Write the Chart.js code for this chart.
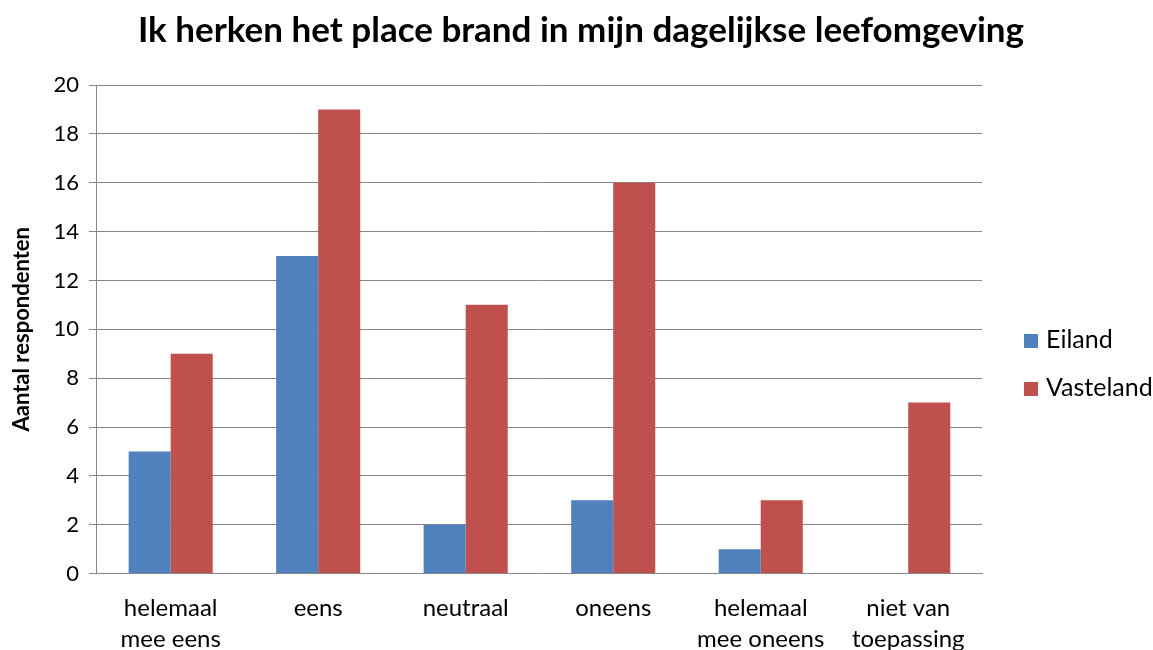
<!DOCTYPE html>
<html>
<head>
<meta charset="utf-8">
<script src="https://cdn.jsdelivr.net/npm/chart.js@4"></script>
<style>
  html, body { margin: 0; padding: 0; background: #fff; overflow: hidden; }
  #wrap { position: relative; width: 1153px; height: 666px; }
  #legend { position: absolute; left: 1024px; top: 322px; font-family: Lato, "Open Sans", sans-serif; font-size: 25px; color: #000; }
  #legend div { height: 48px; line-height: 32px; white-space: nowrap; }
  #legend span { display: inline-block; width: 14px; height: 14px; margin-right: 8px; vertical-align: 0px; }
</style>
</head>
<body>
<div id="wrap"><canvas id="chart"></canvas><div id="legend"></div></div>
<script>
const categories = [
    ['helemaal', 'mee eens'],
    'eens',
    'neutraal',
    'oneens',
    ['helemaal', 'mee oneens'],
    ['niet van', 'toepassing'],
];
const seriesNames = ['Eiland', 'Vasteland'];
const eiland = [5, 13, 2, 3, 1, 0];
const vasteland = [9, 19, 11, 16, 3, 7];
const colors = ['#4F81BD', '#C0504D'];

const FONT = 'Lato, "Open Sans", sans-serif';
const gridGrey = '#868686';

const chart = new Chart(document.getElementById('chart').getContext('2d'), {
    type: 'bar',
    data: {
        labels: categories,
        datasets: [
            { label: seriesNames[0], data: eiland, backgroundColor: colors[0], borderWidth: 0 },
            { label: seriesNames[1], data: vasteland, backgroundColor: colors[1], borderWidth: 0 },
        ],
    },
    options: {
        responsive: true,
        maintainAspectRatio: false,
        animation: false,
        layout: { padding: { left: 9, right: 0, top: 0, bottom: 0 } },
        datasets: { bar: { categoryPercentage: 0.57, barPercentage: 1.0 } },
        plugins: {
            title: {
                display: true,
                text: 'Ik herken het place brand in mijn dagelijkse leefomgeving',
                color: '#000',
                font: { family: FONT, size: 35, weight: 'bold' },
                padding: { top: 10, bottom: 33 },
            },
            legend: { display: false },
            tooltip: { enabled: false },
        },
        scales: {
            x: {
                grid: { display: false, drawTicks: true, tickLength: 8 },
                border: { color: gridGrey, width: 1 },
                ticks: { color: '#000', font: { family: FONT, size: 24, lineHeight: 1.3 }, padding: 11, maxRotation: 0, autoSkip: false },
            },
            y: {
                min: 0,
                max: 20,
                ticks: { stepSize: 2, color: '#000', font: { family: FONT, size: 22 }, padding: 10 },
                grid: { color: gridGrey, lineWidth: 1, tickLength: 8 },
                border: { color: gridGrey, width: 1 },
                title: {
                    display: true,
                    text: 'Aantal respondenten',
                    color: '#000',
                    font: { family: FONT, size: 22, weight: 'bold' },
                    padding: { top: 0, bottom: 8 },
                },
            },
            // empty right axis, only reserves room for the legend
            yRight: {
                position: 'right',
                min: 0,
                max: 20,
                grid: { display: false },
                border: { display: false },
                ticks: { display: false },
                afterFit: (scale) => { scale.width = 171; },
            },
        },
    },
});

// legend as html, placed right of the plot like the original
const legendEl = document.getElementById('legend');
chart.data.datasets.forEach(ds => {
    const row = document.createElement('div');
    const box = document.createElement('span');
    box.style.background = ds.backgroundColor;
    row.appendChild(box);
    row.appendChild(document.createTextNode(ds.label));
    legendEl.appendChild(row);
});
</script>
</body>
</html>
